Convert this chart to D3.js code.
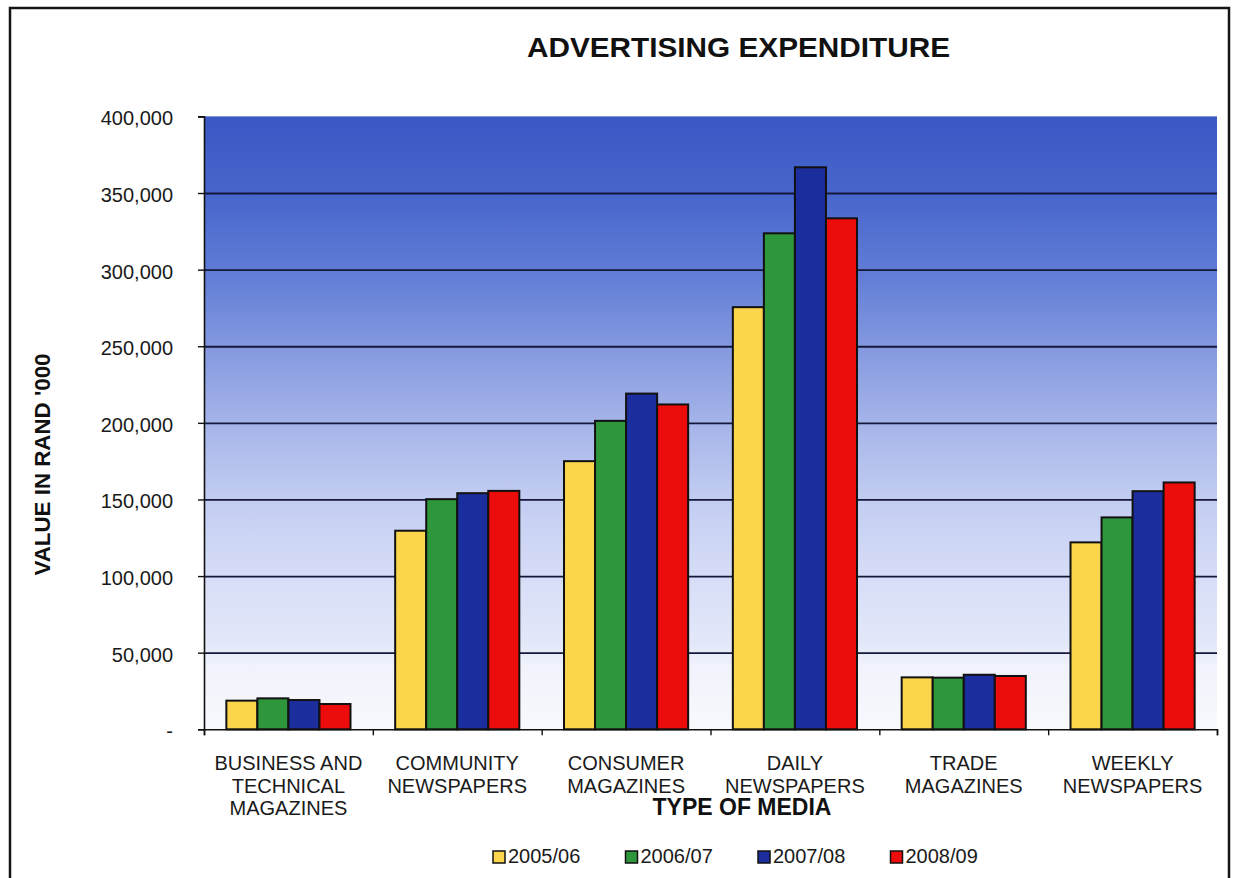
<!DOCTYPE html>
<html>
<head>
<meta charset="utf-8">
<script src="https://cdn.jsdelivr.net/npm/d3@7/dist/d3.min.js"></script>
<style>
  html, body { margin: 0; padding: 0; background: #ffffff; }
  svg { display: block; font-family: "Liberation Sans", Arial, sans-serif; }
</style>
</head>
<body>
<script>
// Advertising expenditure by type of media (value in Rand '000)
const categories = [
  "BUSINESS AND\nTECHNICAL\nMAGAZINES",
  "COMMUNITY\nNEWSPAPERS",
  "CONSUMER\nMAGAZINES",
  "DAILY\nNEWSPAPERS",
  "TRADE\nMAGAZINES",
  "WEEKLY\nNEWSPAPERS"
];
const seriesNames = ["2005/06", "2006/07", "2007/08", "2008/09"];
const values2005 = [18700, 129600, 175000, 275500, 33900, 122000];
const values2006 = [20200, 150200, 201300, 323700, 33700, 138300];
const values2007 = [19100, 154100, 219100, 366800, 35600, 155400];
const values2008 = [16500, 155600, 212000, 333500, 34800, 161100];
const yTickValues = [0, 50000, 100000, 150000, 200000, 250000, 300000, 350000, 400000];
const yTickLabels = ["-", "50,000", "100,000", "150,000", "200,000", "250,000", "300,000", "350,000", "400,000"];
const seriesColors = ["#fbd54c", "#2f973b", "#1c2e9e", "#ec0c0c"];

const seriesValues = [values2005, values2006, values2007, values2008];
const rows = categories.map((c, i) => ({
  category: c,
  bars: seriesNames.map((s, j) => ({ series: s, value: seriesValues[j][i] }))
}));

const W = 1235, H = 878;
const plot = { left: 204, right: 1217, top: 116.4, bottom: 729.3 };

const svg = d3.select("body").append("svg")
  .attr("width", W).attr("height", H);

const defs = svg.append("defs");
const grad = defs.append("linearGradient")
  .attr("id", "plotBg").attr("x1", 0).attr("y1", 0).attr("x2", 0).attr("y2", 1);
[
  [0.00, "#3a58c4"], [0.125, "#4766cc"], [0.25, "#5f7bd5"], [0.375, "#8398df"],
  [0.50, "#a5b4e9"], [0.625, "#c3cdf2"], [0.75, "#d6ddf7"], [0.86, "#e3e8f9"],
  [0.90, "#f1f3fc"], [1.00, "#f8f9fd"]
].forEach(([o, c]) => grad.append("stop").attr("offset", o).attr("stop-color", c));

// Outer frame
svg.append("rect")
  .attr("x", 10).attr("y", 8).attr("width", 1219).attr("height", 900)
  .attr("fill", "none").attr("stroke", "#151515").attr("stroke-width", 2.5);

// Scales
const x0 = d3.scaleBand().domain(categories).range([plot.left, plot.right])
  .paddingInner(0).paddingOuter(0);
const x1 = d3.scaleBand().domain(seriesNames).range([0, x0.bandwidth()])
  .paddingInner(0).paddingOuter(0.72);
const y = d3.scaleLinear().domain([0, 400000]).range([plot.bottom, plot.top]);
const xEdge = d3.scaleLinear().domain([0, categories.length]).range([plot.left, plot.right]);

// Plot background
svg.append("rect")
  .attr("x", plot.left).attr("y", plot.top)
  .attr("width", plot.right - plot.left).attr("height", plot.bottom - plot.top)
  .attr("fill", "url(#plotBg)");

// Horizontal gridlines
const grid = svg.append("g")
  .attr("transform", `translate(${plot.left},0)`)
  .call(d3.axisLeft(y)
    .tickValues(yTickValues.filter(v => v > 0 && v < 400000))
    .tickSize(-(plot.right - plot.left))
    .tickFormat(""));
grid.select(".domain").remove();
grid.selectAll(".tick line").attr("stroke", "#15183a").attr("stroke-width", 1.8);

// Bars
const groups = svg.append("g").selectAll("g")
  .data(rows).join("g")
  .attr("transform", d => `translate(${x0(d.category)},0)`);
groups.selectAll("rect")
  .data(d => d.bars).join("rect")
  .attr("x", d => x1(d.series))
  .attr("y", d => y(d.value))
  .attr("width", x1.bandwidth())
  .attr("height", d => y(0) - y(d.value))
  .attr("fill", (d, i) => seriesColors[i])
  .attr("stroke", "#111111")
  .attr("stroke-width", 2);

// Y axis
const yAxis = svg.append("g")
  .attr("transform", `translate(${plot.left},0)`)
  .call(d3.axisLeft(y)
    .tickValues(yTickValues)
    .tickFormat((d, i) => yTickLabels[i])
    .tickSize(6).tickPadding(25));
yAxis.select(".domain").attr("stroke", "#111").attr("stroke-width", 1.6);
yAxis.selectAll(".tick line").attr("stroke", "#111").attr("stroke-width", 1.4);
yAxis.selectAll(".tick text")
  .attr("font-size", 20).attr("fill", "#1a1a1a")
  .attr("font-family", "Liberation Sans, Arial, sans-serif")
  .attr("dy", "0.42em");

// X axis with ticks on category boundaries
const xAxis = svg.append("g")
  .attr("transform", `translate(0,${plot.bottom})`)
  .call(d3.axisBottom(xEdge).tickValues(d3.range(categories.length + 1))
    .tickSize(6).tickFormat(""));
xAxis.select(".domain").attr("stroke", "#111").attr("stroke-width", 1.6);
xAxis.selectAll(".tick line").attr("stroke", "#111").attr("stroke-width", 1.4);

// Category labels
const catLabels = svg.append("g").selectAll("text")
  .data(categories).join("text")
  .attr("text-anchor", "middle")
  .attr("font-size", 20).attr("fill", "#1a1a1a");
catLabels.each(function (d) {
  const cx = x0(d) + x0.bandwidth() / 2;
  d3.select(this).selectAll("tspan")
    .data(d.split("\n")).join("tspan")
    .attr("x", cx)
    .attr("y", (t, i) => 770 + i * 22.5)
    .text(t => t);
});

// Title
svg.append("text")
  .attr("x", 738.5).attr("y", 57)
  .attr("text-anchor", "middle")
  .attr("font-size", 28).attr("font-weight", "bold").attr("fill", "#111")
  .attr("textLength", 423).attr("lengthAdjust", "spacingAndGlyphs")
  .text("ADVERTISING EXPENDITURE");

// Axis titles
svg.append("text")
  .attr("transform", "translate(50,464.5) rotate(-90)")
  .attr("text-anchor", "middle")
  .attr("font-size", 22).attr("font-weight", "bold").attr("fill", "#111")
  .attr("textLength", 222).attr("lengthAdjust", "spacingAndGlyphs")
  .text("VALUE IN RAND '000");

svg.append("text")
  .attr("x", 742).attr("y", 815)
  .attr("text-anchor", "middle")
  .attr("font-size", 23).attr("font-weight", "bold").attr("fill", "#111")
  .text("TYPE OF MEDIA");

// Legend
const legend = svg.append("g").selectAll("g")
  .data(seriesNames).join("g")
  .attr("transform", (d, i) => `translate(${493 + i * 132.5},851)`);
legend.append("rect")
  .attr("width", 12).attr("height", 12)
  .attr("fill", (d, i) => seriesColors[i])
  .attr("stroke", "#111").attr("stroke-width", 1.5);
legend.append("text")
  .attr("x", 15).attr("y", 12)
  .attr("font-size", 20).attr("fill", "#1a1a1a")
  .text(d => d);
</script>
</body>
</html>
